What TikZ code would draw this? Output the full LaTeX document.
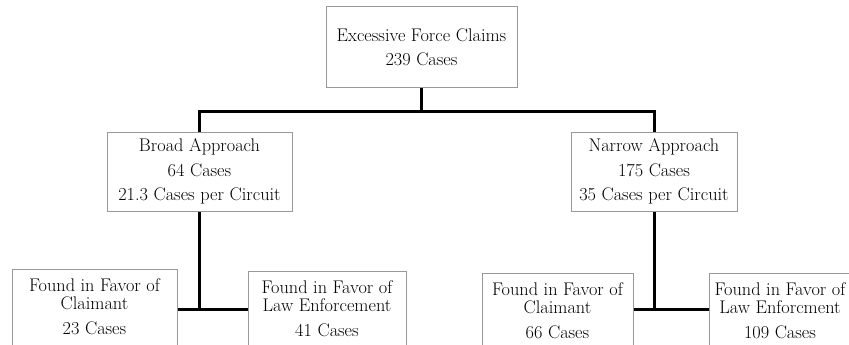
\documentclass[tikz,border=0pt]{standalone}
\colorlet{box edge}{black!40}
\tikzset{
  box/.style={draw=box edge, line width=1pt, align=center, inner xsep=2pt,
    font=\fontsize{18.3}{24.5}\selectfont},
  leaf/.style={box, anchor=north, inner ysep=9.5pt, text depth=40pt,
    font=\fontsize{18.3}{18}\selectfont}
  }
\tikzstyle{edge} = [draw, line width=3pt]

\begin{document}
\begin{tikzpicture}[x=1pt, y=-1pt]
  \useasboundingbox (0,0) rectangle (849,345);
  \clip (0,0) rectangle (849,345);

  \node[box, minimum width=191pt, minimum height=81pt] (claims) at (421.5,47.5)
    {Excessive Force Claims\\239 Cases};
  \node[box, minimum width=185pt, minimum height=79pt] (broad) at (199.5,171.5)
    {Broad Approach\\64 Cases\\21.3 Cases per Circuit};
  \node[box, minimum width=166pt, minimum height=79pt] (narrow) at (654,171.5)
    {Narrow Approach\\175 Cases\\35 Cases per Circuit};

  % outcome boxes, cut off at the page edge
  \foreach \pos/\w/\name/\who/\num in {
      {(94.5,269)/165/claimA/Claimant/23},
      {(327,271)/158/lawA/Law Enforcement/41},
      {(557.5,273)/151/claimB/Claimant/66},
      {(780,273)/142/lawB/Law Enforcment/109}} {
    \node[leaf, minimum width=\w pt] (\name) at \pos
      {Found in Favor of\\\who\\[6.5pt]\num{} Cases};
  }

  \coordinate (split) at (421.5,111);
  \path[edge] (claims.south) -- (split);
  \path[edge] (broad.north) |- (split) -| (narrow.north);

  \path[edge] (broad.south) -- ++(0,98) coordinate (forkA);
  \path[edge] (claimA.east |- forkA) -- (lawA.west |- forkA);
  \path[edge] (narrow.south) -- ++(0,98) coordinate (forkB);
  \path[edge] (claimB.east |- forkB) -- (lawB.west |- forkB);
\end{tikzpicture}
\end{document}
